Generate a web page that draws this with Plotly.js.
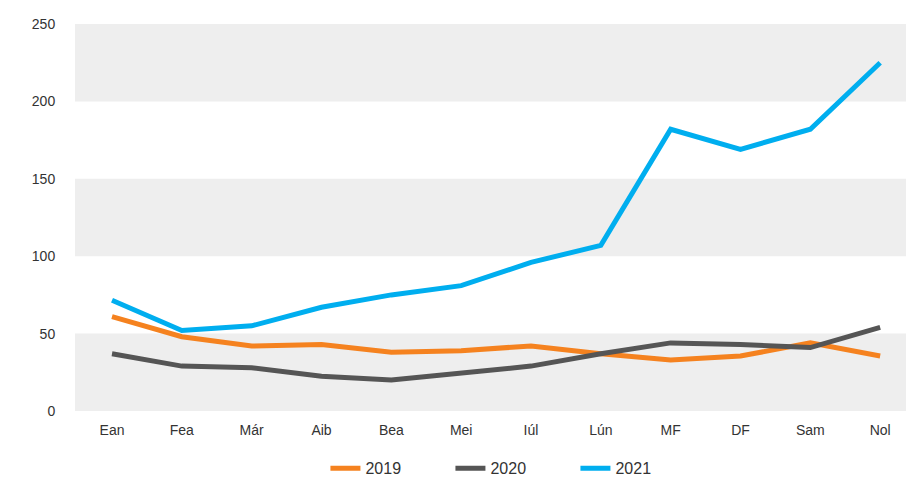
<!DOCTYPE html>
<html><head><meta charset="utf-8">
<script src="https://cdn.plot.ly/plotly-3.0.1.min.js"></script>
<style>html,body{margin:0;padding:0;background:#fff}#c{width:906px;height:486px}</style>
</head><body><div id="c"></div>
<script>
const months = ["Ean","Fea","Már","Aib","Bea","Mei","Iúl","Lún","MF","DF","Sam","Nol"];
const s2019 = [61,48,42,43,38,39,42,37,33,35.5,44,35.5];
const s2020 = [37,29,28,22.5,20,24.5,29,37,44,43,41,54];
const s2021 = [71.5,52,55,67,75,81,96,107,182,169,182,225];
const yTicks = [0,50,100,150,200,250];
const bands = [[0,50],[100,150],[200,250]];

const mk = (y,name,color)=>({x:months,y:y,name:name,type:"scatter",mode:"lines",
  line:{color:color,width:5}});
const data = [mk(s2019,"2019","#f5821f"),mk(s2020,"2020","#555555"),mk(s2021,"2021","#00aeef")];

const layout = {
  width:906,height:486,
  margin:{l:75,r:0,t:24,b:75,autoexpand:false},
  paper_bgcolor:"#fff",plot_bgcolor:"#fff",
  font:{family:"Liberation Sans, Arial, sans-serif",color:"#333",size:14},
  showlegend:true,
  legend:{orientation:"h",x:0.527,xanchor:"center",xref:"paper",y:-0.192,yanchor:"bottom",
    font:{size:16,color:"#333"},entrywidth:80,entrywidthmode:"pixels",tracegroupgap:0},
  xaxis:{type:"category",range:[-0.53,11.37],showgrid:false,zeroline:false,showline:false,
    ticks:"outside",ticklen:6,tickcolor:"rgba(0,0,0,0)",tickfont:{size:14,color:"#333"}},
  yaxis:{range:[0,250],tickvals:yTicks,showgrid:false,zeroline:false,showline:false,
    ticks:"outside",ticklen:16,tickcolor:"rgba(0,0,0,0)",tickfont:{size:14,color:"#333"}},
  shapes:bands.map(b=>({type:"rect",xref:"paper",yref:"y",x0:0,x1:1,y0:b[0],y1:b[1],
    fillcolor:"#eeeeee",line:{width:0},layer:"below"}))
};
Plotly.newPlot("c",data,layout,{displayModeBar:false,staticPlot:true});
</script></body></html>
